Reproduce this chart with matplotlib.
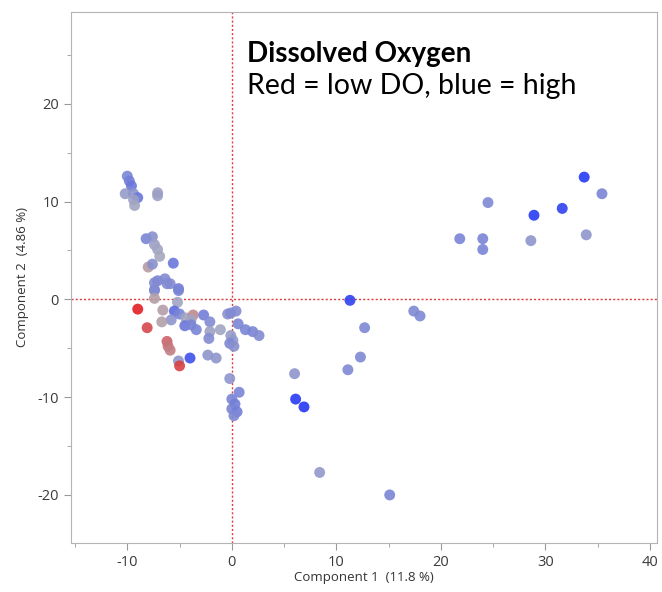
import numpy as np
import matplotlib.pyplot as plt
from matplotlib.colors import LinearSegmentedColormap
from matplotlib.ticker import MultipleLocator

# Component scores, with a 0..1 dissolved-oxygen colour level
comp1 = [
    33.7, 35.4, 24.5, 28.9, 31.6, 21.8, 24.0, 24.0, 28.6, 33.9,
    11.3, 17.4, 18.0, 12.7, 12.3, 11.1, 6.0, 6.1, 6.9, 8.4, 15.1,
    -10.0, -9.8, -9.6, -10.2, -9.4, -9.0, -9.4, -9.3, -7.1, -7.1,
    -8.2, -7.6, -7.4, -7.1, -6.9, -8.0, -7.6, -5.6, -7.1, -6.4, -5.9, -5.1, -7.4,
    -7.4, -6.2, -5.1, -7.4, -7.4, -5.2, -9.0, -6.6, -5.5, -5.8, -5.0, -6.7,
    -4.4, -3.7, -3.9, -2.7, -2.1, -4.5, -3.9, -3.4, -8.1, -2.1, -1.1, -2.2,
    -0.4, -0.1, 0.4, 0.6, 1.3, 2.0, 2.6, -0.1, 0.1, -0.2, 0.2,
    -6.2, -6.1, -5.9, -5.1, -5.0, -4.0, -2.3, -1.5, -0.2, 0.7,
    0.0, 0.3, 0.0, 0.5, 0.2,
]
comp2 = [
    12.5, 10.8, 9.9, 8.6, 9.3, 6.2, 6.2, 5.1, 6.0, 6.6,
    -0.1, -1.2, -1.7, -2.9, -5.9, -7.2, -7.6, -10.2, -11.0, -17.7, -20.0,
    12.6, 12.1, 11.6, 10.8, 10.8, 10.4, 10.2, 9.6, 10.9, 10.6,
    6.2, 6.4, 5.6, 5.1, 4.4, 3.3, 3.6, 3.7, 1.9, 2.1, 1.6, 1.1, 1.0,
    1.7, 1.6, 0.9, 0.9, 0.1, -0.3, -1.0, -1.1, -1.2, -2.1, -1.5, -2.3,
    -1.9, -1.6, -2.1, -1.6, -2.3, -2.7, -2.6, -3.1, -2.9, -3.3, -3.1, -4.0,
    -1.5, -1.4, -1.2, -2.5, -3.1, -3.3, -3.7, -3.7, -4.2, -4.5, -4.8,
    -4.3, -4.8, -5.2, -6.3, -6.8, -6.0, -5.7, -6.0, -8.1, -9.5,
    -10.2, -10.7, -11.2, -11.5, -11.9,
]
do_level = [
    0.97, 0.72, 0.70, 0.97, 0.95, 0.72, 0.72, 0.72, 0.62, 0.62,
    0.95, 0.70, 0.70, 0.70, 0.70, 0.70, 0.62, 0.97, 0.98, 0.60, 0.72,
    0.72, 0.75, 0.78, 0.58, 0.62, 0.78, 0.55, 0.52, 0.55, 0.55,
    0.72, 0.65, 0.55, 0.52, 0.50, 0.28, 0.65, 0.78, 0.72, 0.68, 0.68, 0.75, 0.65,
    0.68, 0.68, 0.72, 0.68, 0.32, 0.52, 0.02, 0.32, 0.82, 0.62, 0.72, 0.35,
    0.52, 0.22, 0.52, 0.75, 0.68, 0.78, 0.72, 0.72, 0.10, 0.55, 0.52, 0.68,
    0.65, 0.68, 0.68, 0.72, 0.72, 0.72, 0.68, 0.58, 0.60, 0.70, 0.65,
    0.15, 0.18, 0.20, 0.62, 0.08, 0.90, 0.62, 0.62, 0.62, 0.72,
    0.72, 0.75, 0.72, 0.75, 0.70,
]

x_ticks = [-10, 0, 10, 20, 30, 40]
y_ticks = [-20, -10, 0, 10, 20]

do_cmap = LinearSegmentedColormap.from_list(
    "do", ["#e8151a", "#b89a9e", "#a6a8c0", "#7480d8", "#1e32f6"]
)

plt.rcParams["font.family"] = ["Open Sans", "DejaVu Sans"]
plt.rcParams["axes.unicode_minus"] = False

fig = plt.figure(figsize=(6.62, 5.92), dpi=100)
ax = fig.add_axes([0.107, 0.083, 0.886, 0.897])

ax.axvline(0, color="#e03a3a", linestyle=(0, (1.5, 1.5)), linewidth=1.0, zorder=1)
ax.axhline(0, color="#e03a3a", linestyle=(0, (1.5, 1.5)), linewidth=1.0, zorder=1)

ax.scatter(comp1, comp2, c=do_level, cmap=do_cmap, vmin=0, vmax=1,
           s=62, alpha=0.9, edgecolors="none", zorder=3)

ax.set_xlim(-15.4, 40.7)
ax.set_ylim(-24.9, 29.4)
ax.set_xticks(x_ticks)
ax.set_yticks(y_ticks)
ax.xaxis.set_minor_locator(MultipleLocator(5))
ax.yaxis.set_minor_locator(MultipleLocator(5))
ax.tick_params(which="major", length=5, color="#9a9a9a", labelsize=10.5, labelcolor="#3a3a3a")
ax.tick_params(which="minor", length=3, color="#9a9a9a")
for sp in ax.spines.values():
    sp.set_color("#b4b4b4")

ax.set_xlabel("Component 1  (11.8 %)", fontsize=9.5, color="#333333", labelpad=1)
ax.set_ylabel("Component 2  (4.86 %)", fontsize=9.5, color="#333333", labelpad=6)

ax.text(0.3, 0.906, "Dissolved Oxygen", transform=ax.transAxes, fontsize=20,
        fontweight="bold", va="baseline", ha="left", color="black",
        family=["Lato", "DejaVu Sans"])
ax.text(0.3, 0.845, "Red = low DO, blue = high", transform=ax.transAxes,
        fontsize=20.5, va="baseline", ha="left", color="black",
        family=["Lato", "DejaVu Sans"])

fig.savefig("out.png", dpi=100)
